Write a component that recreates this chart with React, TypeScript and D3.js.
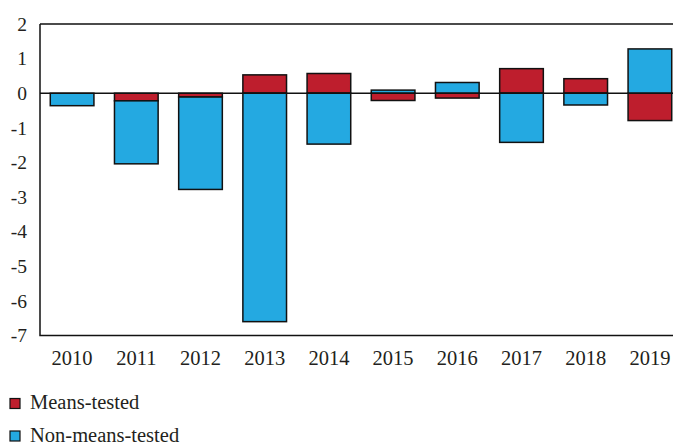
import React from "react";
import * as d3 from "d3";

const years = ["2010","2011","2012","2013","2014","2015","2016","2017","2018","2019"];
const meansTested = [0, -0.22, -0.11, 0.53, 0.57, -0.21, -0.14, 0.71, 0.42, -0.79];
const nonMeansTested = [-0.36, -1.82, -2.67, -6.6, -1.47, 0.09, 0.31, -1.42, -0.34, 1.28];
const yTicks = [2, 1, 0, -1, -2, -3, -4, -5, -6, -7];
const seriesNames = ["Means-tested", "Non-means-tested"];
const seriesColors = ["#BE1E2D", "#24A9E1"];

const W = 673, H = 447;
const left = 40, right = 682, top = 24, bottom = 335.5;
const font = "'Liberation Serif', 'Times New Roman', serif";

export default function App() {
  const x = d3.scaleBand<string>().domain(years).range([left, right]).paddingInner(0.32).paddingOuter(0.16);
  const y = d3.scaleLinear().domain([-7, 2]).range([bottom, top]);
  const rows = years.map((yr, i) => ({ year: yr, m: meansTested[i], n: nonMeansTested[i] }));
  const stack = d3.stack<any>().keys(["m", "n"]).offset(d3.stackOffsetDiverging);
  const layers = stack(rows);

  return (
    <svg width={W} height={H} style={{ position: "absolute", left: 0, top: 0 }}>
      <rect x={0} y={0} width={W} height={H} fill="#fff" />
      {layers.map((layer, li) =>
        layer.map((d, i) => {
          const y0 = y(Math.max(d[0], d[1]));
          const y1 = y(Math.min(d[0], d[1]));
          if (Math.abs(d[1] - d[0]) < 1e-9) return null;
          return (
            <rect key={`${li}-${i}`} x={x(years[i])} y={y0} width={x.bandwidth()} height={y1 - y0}
              fill={seriesColors[li]} stroke="#111" strokeWidth={1.5} />
          );
        })
      )}
      <line x1={left} x2={right} y1={y(0)} y2={y(0)} stroke="#111" strokeWidth={1.5} />
      <path d={`M${left},${top}H${right}M${left},${top}V${bottom}H${right}`} fill="none" stroke="#111" strokeWidth={1.5} />
      {yTicks.map(t => (
        <text key={t} x={27} y={y(t)} dy="0.35em" textAnchor="end" fontFamily={font} fontSize={19.5} fill="#231F20">{t}</text>
      ))}
      {years.map(yr => (
        <text key={yr} x={(x(yr) as number) + x.bandwidth() / 2} y={365} textAnchor="middle" fontFamily={font} fontSize={20.5} fill="#231F20">{yr}</text>
      ))}
      {seriesNames.map((nm, i) => (
        <g key={nm} transform={`translate(10, ${398.5 + i * 32.5})`}>
          <rect x={0} y={0} width={10} height={10} fill={seriesColors[i]} stroke="#111" strokeWidth={1.2} />
          <text x={20} y={10.5} fontFamily={font} fontSize={20.5} fill="#231F20">{nm}</text>
        </g>
      ))}
    </svg>
  );
}
